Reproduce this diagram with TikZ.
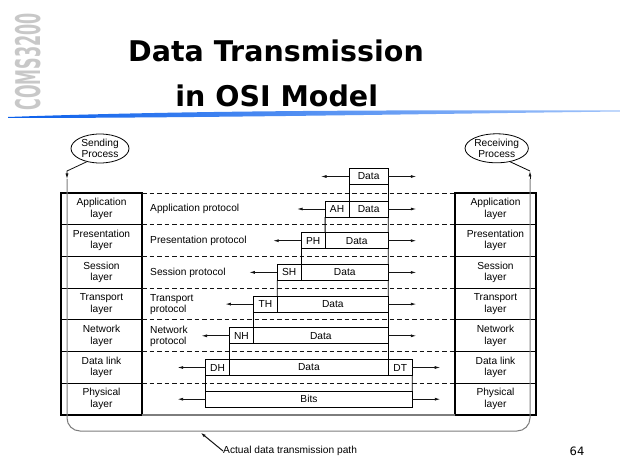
\documentclass[tikz,border=0pt]{standalone}
\usepackage{fontspec}
\setmainfont{Liberation Sans}
\newfontfamily\labelfont{Liberation Sans}
\newfontfamily\headfont{DejaVu Sans}
\usetikzlibrary{shapes.geometric, arrows.meta, positioning}
\definecolor{mydark}{RGB}{20,20,20}
\definecolor{mygray}{RGB}{125,125,125}
\definecolor{mylogo}{RGB}{200,200,200}
\definecolor{myblue}{RGB}{10,95,235}
\definecolor{mylightblue}{RGB}{160,195,250}
\newcommand{\diagfont}{\labelfont\fontsize{10.2}{11.5}\selectfont}
\newcommand{\titlesize}{\headfont\bfseries\fontsize{28.5}{34}\selectfont}
\tikzset{
  layer/.style={rectangle, draw=black, line width=1.2pt, minimum width=81pt,
    minimum height=31.7pt, inner sep=0pt, outer sep=0pt, align=center},
  proc/.style={ellipse, draw=black, line width=0.8pt, minimum width=58pt,
    minimum height=29pt, inner sep=0pt, align=center},
  pkt/.style={rectangle, draw=black, line width=0.8pt, minimum height=16pt,
    inner sep=0pt, outer sep=0pt},
  hdr/.style={pkt, minimum width=23.9pt},
  proto/.style={anchor=west, inner sep=0pt, align=left},
  arrow/.style={-{Latex[length=5.5pt, width=3pt]}, line width=0.8pt, color=mydark},
  line/.style={line width=0.8pt, color=black},
  peer/.style={dash pattern=on 4.5pt off 3pt, line width=0.8pt, color=mydark},
  medium/.style={line width=1.2pt, color=mygray}
}
\begin{document}
\begin{tikzpicture}[x=1pt, y=-1pt, every node/.style={font=\diagfont}]
  \fill[white] (0,0) rectangle (620,462);
  \useasboundingbox (0,0) rectangle (620,462);

  % slide header
  \node[font=\titlesize, anchor=base] (title1) at (276,61.7) {Data Transmission};
  \node[font=\titlesize, anchor=base] (title2) at (276.7,106.7) {in OSI Model};
  \node[rotate=90, text=mylogo, font=\headfont\bfseries\fontsize{34}{34}\selectfont] (logo) at (28.5,62) {\scalebox{0.47}[1]{COMS3200}};
  \shade[left color=myblue, right color=mylightblue] (8,117) .. controls (200,110) and (420,110) .. (620,110.5)
    -- (620,111.5) .. controls (420,114) and (200,118) .. (8,118) -- cycle;

  % the two stacks
  \node[layer] (lApp) at (101.5,208.85) {Application\\layer};
  \node[layer, below=0pt of lApp] (lPre) {Presentation\\layer};
  \node[layer, below=0pt of lPre] (lSes) {Session\\layer};
  \node[layer, below=0pt of lSes] (lTra) {Transport\\layer};
  \node[layer, below=0pt of lTra] (lNet) {Network\\layer};
  \node[layer, below=0pt of lNet] (lDat) {Data link\\layer};
  \node[layer, below=0pt of lDat] (lPhy) {Physical\\layer};

  \node[layer] (rApp) at (495.5,208.85) {Application\\layer};
  \node[layer, below=0pt of rApp] (rPre) {Presentation\\layer};
  \node[layer, below=0pt of rPre] (rSes) {Session\\layer};
  \node[layer, below=0pt of rSes] (rTra) {Transport\\layer};
  \node[layer, below=0pt of rTra] (rNet) {Network\\layer};
  \node[layer, below=0pt of rNet] (rDat) {Data link\\layer};
  \node[layer, below=0pt of rDat] (rPhy) {Physical\\layer};

  \node[proc] (send) at (100,148.5) {Sending\\Process};
  \node[proc] (recv) at (496.7,148.3) {Receiving\\Process};

  % peer protocols
  \draw[peer] (lApp.north east) -- (rApp.north west);
  \draw[peer] (lPre.north east) -- (rPre.north west);
  \draw[peer] (lSes.north east) -- (rSes.north west);
  \draw[peer] (lTra.north east) -- (rTra.north west);
  \draw[peer] (lNet.north east) -- (rNet.north west);
  \draw[peer] (lDat.north east) -- (rDat.north west);
  \draw[peer] (lPhy.north east) -- (rPhy.north west);
  \draw[medium] (lPhy.south east) -- (rPhy.south west);

  \node[proto] (pApp) at (150,209) {Application protocol};
  \node[proto] (pPre) at (150,240.7) {Presentation protocol};
  \node[proto] (pSes) at (150,272.4) {Session protocol};
  \node[proto] (pTra) at (150,304.3) {Transport\\protocol};
  \node[proto] (pNet) at (150,336.2) {Network\\protocol};

  % actual path
  \coordinate (sBend) at (67,171);
  \coordinate (sTip) at (67,179);
  \coordinate (rBend) at (530,171);
  \coordinate (rTip) at (530,179);
  \coordinate (pathL) at (67,431);
  \coordinate (pathR) at (530,431);
  \coordinate (pathMark) at (200.5,432.5);
  \draw[medium, line width=1pt, rounded corners=13pt] (sTip) -- (pathL) -- (pathR) -- (rTip);
  \draw[arrow] (send.225) -- (sBend) -- (sTip);
  \draw[line] (recv.-45) -- (rBend);
  \draw[arrow] (rTip) -- (rBend);

  % packets
  \node[pkt, minimum width=39.3pt, anchor=west] (d0) at (349,176.5) {Data};
  \node[hdr, anchor=west] (hAH) at (325.1,209) {AH};
  \node[pkt, minimum width=39.3pt, right=0pt of hAH] (dAH) {Data};
  \node[hdr, anchor=west] (hPH) at (301.2,240.7) {PH};
  \node[pkt, minimum width=63.2pt, right=0pt of hPH] (dPH) {Data};
  \node[hdr, anchor=west] (hSH) at (277.3,272.4) {SH};
  \node[pkt, minimum width=87.1pt, right=0pt of hSH] (dSH) {Data};
  \node[hdr, anchor=west] (hTH) at (253.4,304.1) {TH};
  \node[pkt, minimum width=111pt, right=0pt of hTH] (dTH) {Data};
  \node[hdr, anchor=west] (hNH) at (229.5,335.8) {NH};
  \node[pkt, minimum width=134.9pt, right=0pt of hNH] (dNH) {Data};
  \node[hdr, anchor=west] (hDH) at (205.6,367.5) {DH};
  \node[pkt, minimum width=158.8pt, right=0pt of hDH] (dDH) {Data};
  \node[hdr, right=0pt of dDH] (tDT) {DT};
  \node[pkt, minimum width=206.7pt, anchor=west] (bits) at (205.6,399.2) {Bits};

  \draw[line] (d0.south west) -- (dAH.north west);
  \draw[line] (d0.south east) -- (dAH.north east);
  \draw[line] (hAH.south west) -- (dPH.north west);
  \draw[line] (dAH.south east) -- (dPH.north east);
  \draw[line] (hPH.south west) -- (dSH.north west);
  \draw[line] (dPH.south east) -- (dSH.north east);
  \draw[line] (hSH.south west) -- (dTH.north west);
  \draw[line] (dSH.south east) -- (dTH.north east);
  \draw[line] (hTH.south west) -- (dNH.north west);
  \draw[line] (dTH.south east) -- (dNH.north east);
  \draw[line] (hNH.south west) -- (dDH.north west);
  \draw[line] (dNH.south east) -- (dDH.north east);
  \draw[line] (hDH.south west) -- (bits.north west);
  \draw[line] (tDT.south east) -- (bits.north east);

  \draw[arrow] (d0.west) -- ++(-28,0);
  \draw[arrow] (d0.east) -- ++(28,0);
  \draw[arrow] (hAH.west) -- ++(-28,0);
  \draw[arrow] (dAH.east) -- ++(28,0);
  \draw[arrow] (hPH.west) -- ++(-28,0);
  \draw[arrow] (dPH.east) -- ++(28,0);
  \draw[arrow] (hSH.west) -- ++(-28,0);
  \draw[arrow] (dSH.east) -- ++(28,0);
  \draw[arrow] (hTH.west) -- ++(-28,0);
  \draw[arrow] (dTH.east) -- ++(28,0);
  \draw[arrow] (hNH.west) -- ++(-28,0);
  \draw[arrow] (dNH.east) -- ++(28,0);
  \draw[arrow] (hDH.west) -- ++(-28,0);
  \draw[arrow] (tDT.east) -- ++(28,0);
  \draw[arrow] (bits.west) -- ++(-28,0);
  \draw[arrow] (bits.east) -- ++(28,0);

  \node[anchor=west, inner sep=0pt] (note) at (223,451) {Actual data transmission path};
  \draw[arrow, line width=1pt] (note.west) -- (pathMark);

  \node[font=\headfont\fontsize{11.5}{12}\selectfont] (pgno) at (577,451.5) {64};
\end{tikzpicture}
\end{document}
